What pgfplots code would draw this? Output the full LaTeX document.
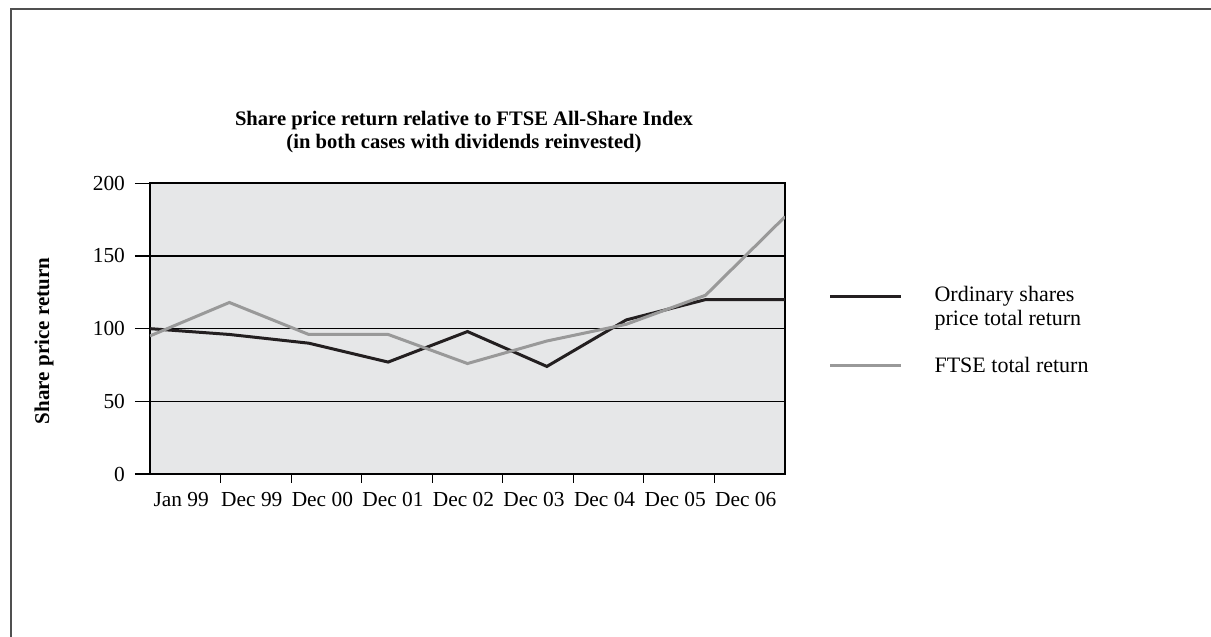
\documentclass[border=0pt]{standalone}
\usepackage{fontspec}
\setmainfont{Liberation Serif}
\usepackage{pgfplots}
\pgfplotsset{compat=1.18}
\pgfplotsset{raisedline/.style={legend image code/.code={\draw[##1] (0pt,5.5pt) -- (35.5pt,5.5pt);}}}
\definecolor{plotbg}{RGB}{230,231,232}
\definecolor{ordline}{RGB}{35,31,32}
\definecolor{ftseline}{RGB}{153,153,153}
\definecolor{framecol}{RGB}{80,80,80}
\begin{document}
\begin{tikzpicture}
\path[use as bounding box] (0,0) rectangle (605.5pt,318.5pt);
\draw[framecol, line width=0.8pt] (5.5pt,-1pt) -- (5.5pt,314pt) -- (606.5pt,314pt);
\node[font=\fontsize{10.3}{11.5}\selectfont\bfseries, align=center] at (232pt,252.5pt) {Share price return relative to FTSE All-Share Index\\(in both cases with dividends reinvested)};
\node[font=\fontsize{10.5}{12}\selectfont\bfseries, rotate=90] at (22pt,148pt) {Share price return};
\begin{axis}[
  at={(75pt,81.5pt)}, anchor=south west,
  scale only axis, width=317.5pt, height=145.35pt,
  xmin=0, xmax=8, ymin=0, ymax=200,
  axis background/.style={fill=plotbg},
  ytick={0,50,100,150,200},
  xtick={0.4444,1.3333,2.2222,3.1111,4,4.8889,5.7778,6.6667,7.5556},
  xticklabels={Jan 99,Dec 99,Dec 00,Dec 01,Dec 02,Dec 03,Dec 04,Dec 05,Dec 06},
  minor xtick={0.8889,1.7778,2.6667,3.5556,4.4444,5.3333,6.2222,7.1111},
  tick align=outside,
  xtick pos=bottom, ytick pos=left,
  major tick length=7.5pt,
  minor tick length=4.5pt,
  major x tick style={draw=none},
  tick style={black, line width=0.6pt},
  ymajorgrids, grid style={black, line width=0.65pt},
  axis line style={black, line width=1pt},
  tick label style={font=\fontsize{10.7}{12}\selectfont},
  xticklabel style={yshift=2pt, xshift=-2pt},
  yticklabel style={xshift=-1.5pt},
  /pgf/number format/assume math mode=true,
  legend style={at={(1.068,0.66)}, anchor=north west, draw=none, fill=none,
    inner sep=0pt, column sep=14pt, row sep=10pt,
    font=\fontsize{11}{12}\selectfont,
    cells={align=left, anchor=west}},
  legend cell align=left,
  legend image code/.code={\draw[#1] (0pt,0pt) -- (35.5pt,0pt);},
]
\addplot[ordline, line width=1.5pt, raisedline] coordinates {
  (0,100) (1,96) (2,90) (3,77) (4,98) (5,74) (6,106) (7,120) (8,120)};
\addlegendentry{Ordinary shares\\price total return}
\addplot[ftseline, line width=1.5pt] coordinates {
  (0,95) (1,118) (2,96) (3,96) (4,76) (5,91.5) (6,103) (7,123) (8,177)};
\addlegendentry{FTSE total return}
\end{axis}
\end{tikzpicture}
\end{document}
